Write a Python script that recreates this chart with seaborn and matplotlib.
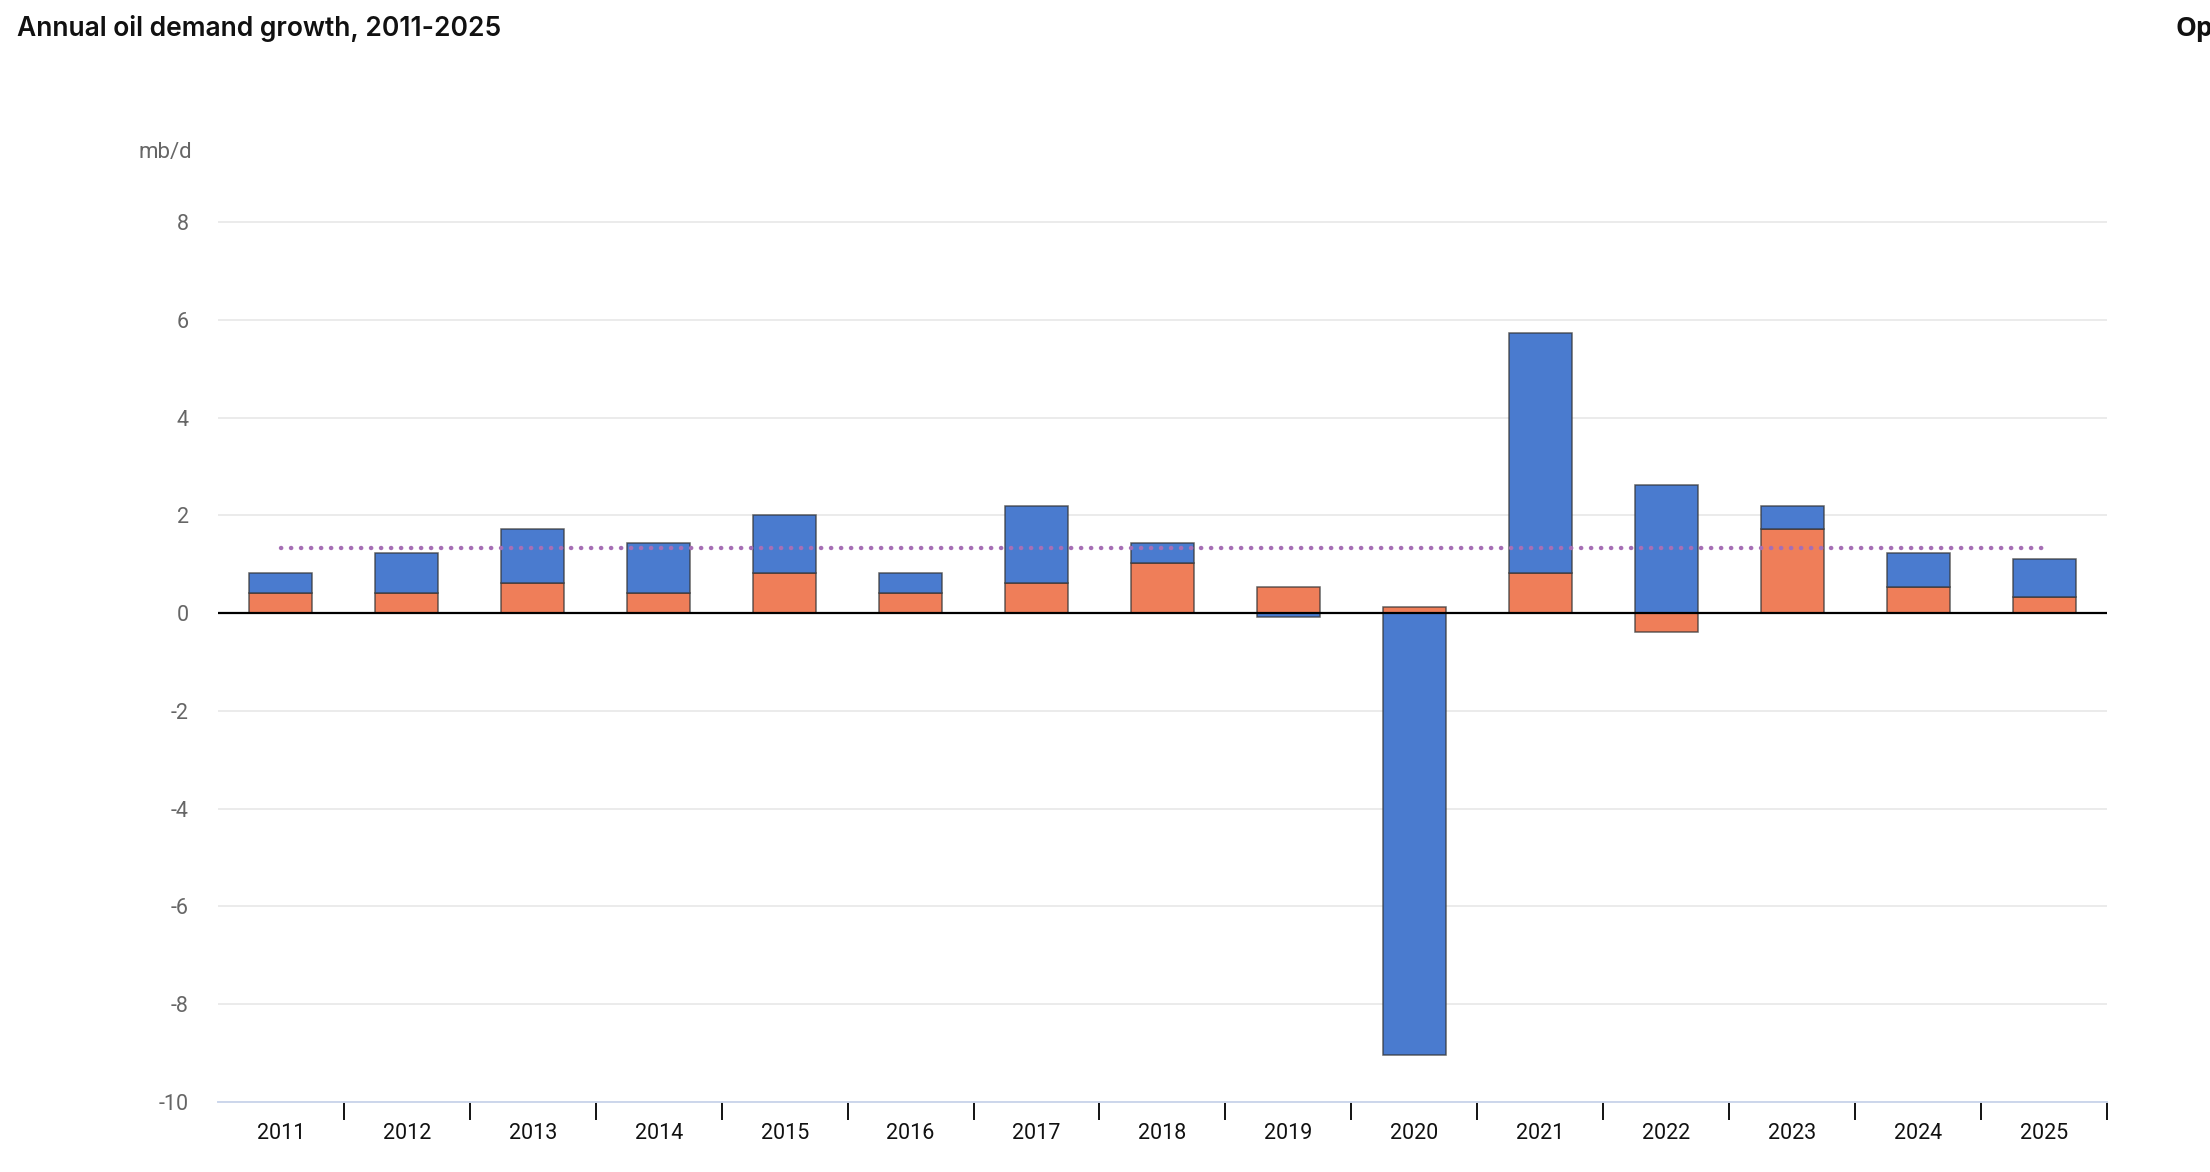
import numpy as np
import pandas as pd
import matplotlib
matplotlib.use("Agg")
import matplotlib.pyplot as plt
import seaborn as sns
from matplotlib.ticker import FixedLocator

# values (mb/d)
years = ["2011", "2012", "2013", "2014", "2015", "2016", "2017", "2018",
         "2019", "2020", "2021", "2022", "2023", "2024", "2025"]
orange_part = [0.41, 0.41, 0.61, 0.41, 0.82, 0.41, 0.61, 1.02,
               0.53, 0.12, 0.82, -0.38, 1.71, 0.53, 0.33]
blue_part = [0.41, 0.81, 1.10, 1.03, 1.18, 0.41, 1.59, 0.41,
             -0.09, -9.03, 4.90, 2.61, 0.49, 0.69, 0.77]
avg_growth = 1.33
ytick_vals = [8, 6, 4, 2, 0, -2, -4, -6, -8, -10]
ytick_labels = ["8", "6", "4", "2", "0", "-2", "-4", "-6", "-8", "-10"]

df = pd.DataFrame({"year": years, "orange": orange_part, "blue": blue_part})
# blue sits on top of orange when both have the same sign, otherwise starts at zero
same_sign = np.sign(df["orange"]) == np.sign(df["blue"])
df["blue_bottom"] = np.where(same_sign, df["orange"], 0.0)

sns.set_style("white")
plt.rcParams["font.family"] = ["Roboto", "DejaVu Sans"]

fig = plt.figure(figsize=(22.1, 11.72), dpi=100)
ax = fig.add_axes([0.0986, 0.0597, 0.9534 - 0.0986, 0.8148 - 0.0597])

edge = (0.2, 0.2, 0.2, 0.75)
sns.barplot(data=df, x="year", y="orange", color="#ef7e59", saturation=1,
            width=0.5, edgecolor=edge, linewidth=1.1, errorbar=None,
            ax=ax, zorder=2)
sns.barplot(data=df, x="year", y="blue", color="#4a7bcf", saturation=1,
            width=0.5, edgecolor=edge, linewidth=1.1, errorbar=None,
            bottom=df["blue_bottom"].values, ax=ax, zorder=2)

ax.plot([0, len(years) - 1], [avg_growth, avg_growth], color="#a66fb5",
        lw=3.2, linestyle=(0, (0.05, 2.2)), dash_capstyle="round", zorder=4)
ax.axhline(0, color="black", lw=1.6, zorder=3)

ax.set_xlim(-0.5, len(years) - 0.5)
ax.set_ylim(-10, 8.1)
ax.set_yticks(ytick_vals)
ax.set_yticklabels(ytick_labels)
ax.yaxis.grid(True, color="#e6e6e6", lw=1.1, zorder=0)
ax.set_axisbelow(True)

for s in ["top", "right", "left"]:
    ax.spines[s].set_visible(False)
ax.spines["bottom"].set_color("#ccd6eb")
ax.spines["bottom"].set_linewidth(1.4)

ax.tick_params(axis="y", length=0, pad=21, labelsize=15.5, labelcolor="#666666")
ax.tick_params(axis="x", which="major", length=0, pad=15, labelsize=15.5,
               labelcolor="#111111")
ax.xaxis.set_minor_locator(FixedLocator(np.arange(0.5, len(years), 1.0)))
ax.tick_params(axis="x", which="minor", bottom=True, length=13, width=1.3,
               color="black", direction="out")
ax.set_xlabel("")
ax.set_ylabel("")

fig.text(0.0077, 0.976, "Annual oil demand growth, 2011-2025", fontsize=19,
         fontweight="semibold", family=["Inter", "DejaVu Sans"], va="center",
         ha="left", color="#111111")
fig.text(0.9846, 0.976, "Open", fontsize=19, fontweight="bold",
         family=["Open Sans", "DejaVu Sans"], va="center", ha="left",
         color="#111111")
fig.text(0.0747, 0.870, "mb/d", fontsize=16, color="#666666", va="center",
         ha="center")

fig.savefig("out.png", dpi=100)
